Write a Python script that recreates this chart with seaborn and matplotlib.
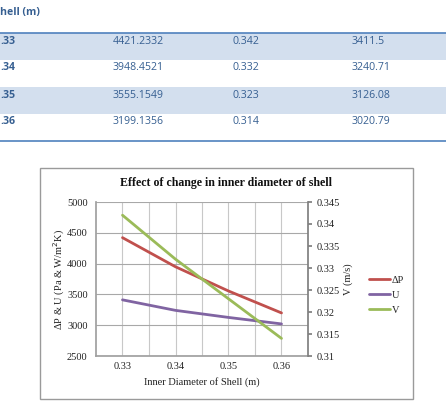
import matplotlib
matplotlib.use("Agg")
import matplotlib.pyplot as plt
import seaborn as sns
import pandas as pd
from matplotlib.patches import Rectangle
from matplotlib.lines import Line2D

diameter = [0.33, 0.34, 0.35, 0.36]
delta_p = [4421.2332, 3948.4521, 3555.1549, 3199.1356]
velocity = [0.342, 0.332, 0.323, 0.314]
u_coef = [3411.5, 3240.71, 3126.08, 3020.79]

diam_labels = ["0.33", "0.34", "0.35", "0.36"]
diam_cut_labels = [".33", ".34", ".35", ".36"]
dp_labels = ["4421.2332", "3948.4521", "3555.1549", "3199.1356"]
v_labels = ["0.342", "0.332", "0.323", "0.314"]
u_labels = ["3411.5", "3240.71", "3126.08", "3020.79"]

sns.set_theme(style="white")
plt.rcParams["font.family"] = ["DejaVu Sans"]

W, H = 446, 404
fig = plt.figure(figsize=(W / 100, H / 100), dpi=100)
fig.patch.set_facecolor("white")


def fx(x):
    return x / W


def fy(y):
    return 1 - y / H


# ---------------- table part ----------------
tcol = "#365F91"
shade = "#D3DFEE"
line_col = "#4F81BD"
tfont = ["Open Sans", "DejaVu Sans"]
tsize = 7.6

for top, bot in [(33, 60), (87, 114)]:
    fig.patches.append(Rectangle((0, fy(bot)), 1, (bot - top) / H, transform=fig.transFigure,
                                 facecolor=shade, edgecolor="none", zorder=0))
for yy in [33, 141]:
    fig.add_artist(Line2D([0, 1], [fy(yy), fy(yy)], transform=fig.transFigure, color=line_col, lw=1.2))

fig.text(fx(0.5), fy(13), "hell (m)", color=tcol, fontsize=tsize, fontweight="bold", family=tfont,
         ha="left", va="center")

row_y = [41, 68, 95, 121]
for i, yy in enumerate(row_y):
    fig.text(fx(0.5), fy(yy), diam_cut_labels[i], color=tcol, fontsize=tsize, fontweight="bold",
             family=tfont, ha="left", va="center")
    fig.text(fx(113), fy(yy), dp_labels[i], color=tcol, fontsize=tsize, family=tfont, ha="left", va="center")
    fig.text(fx(233), fy(yy), v_labels[i], color=tcol, fontsize=tsize, family=tfont, ha="left", va="center")
    fig.text(fx(352), fy(yy), u_labels[i], color=tcol, fontsize=tsize, family=tfont, ha="left", va="center")

# ---------------- chart box ----------------
fig.patches.append(Rectangle((fx(40), fy(399)), (413 - 40) / W, (399 - 168) / H, transform=fig.transFigure,
                             facecolor="white", edgecolor="#9A9A9A", lw=1.0, zorder=1))

serif = ["Liberation Serif", "DejaVu Serif"]
red, purple, green = "#C0504D", "#8064A2", "#9BBB59"

ax = fig.add_axes([fx(96), fy(356), (308 - 96) / W, (356 - 202) / H])
ax.set_zorder(3)
ax.patch.set_alpha(0)

df = pd.DataFrame({"d": diameter, "dp": delta_p, "u": u_coef, "v": velocity})
sns.lineplot(data=df, x="d", y="dp", ax=ax, color=red, lw=2.0, zorder=4)
sns.lineplot(data=df, x="d", y="u", ax=ax, color=purple, lw=2.0, zorder=4)

ax2 = ax.twinx()
sns.lineplot(data=df, x="d", y="v", ax=ax2, color=green, lw=2.0, zorder=4)

ax.set_xlim(0.325, 0.365)
ax.set_ylim(2500, 5000)
ax.set_yticks(range(2500, 5001, 500))
ax.set_xticks(diameter)
ax.set_xticklabels(diam_labels)
ax.set_xticks([0.335, 0.345, 0.355], minor=True)
ax2.set_ylim(0.31, 0.345)
ax2.set_yticks([0.31, 0.315, 0.32, 0.325, 0.33, 0.335, 0.34, 0.345])
ax2.set_yticklabels(["0.31", "0.315", "0.32", "0.325", "0.33", "0.335", "0.34", "0.345"])

ax.grid(True, axis="y", which="major", color="#A8A8A8", lw=0.8)
ax.grid(True, axis="x", which="both", color="#C8C8C8", lw=0.8)
ax.set_axisbelow(True)

for a in (ax, ax2):
    for s in a.spines.values():
        s.set_visible(False)
ax.spines["left"].set_visible(True)
ax.spines["left"].set_color("#A0A0A0")
ax.spines["bottom"].set_visible(True)
ax.spines["bottom"].set_color("#A0A0A0")
ax2.spines["right"].set_visible(True)
ax2.spines["right"].set_color("#808080")

ax.tick_params(axis="both", which="both", length=0, labelsize=7.5, labelcolor="#222222", pad=4)
ax.tick_params(axis="y", pad=6)
ax2.tick_params(axis="y", length=3, direction="out", color="#808080", labelsize=7.5,
                labelcolor="#222222", pad=3)
for lab in ax.get_xticklabels() + ax.get_yticklabels() + ax2.get_yticklabels():
    lab.set_family(serif)

ax.set_xlabel("Inner Diameter of Shell (m)", family=serif, fontsize=7.5, color="#222222", labelpad=5)
ax.set_ylabel("ΔP & U (Pa & W/m$^2$K)", family=serif, fontsize=7.5, color="#222222", labelpad=0)
ax2.set_ylabel("V (m/s)", family=serif, fontsize=7.5, color="#222222", labelpad=3)

fig.text(fx(226), fy(183), "Effect of change in inner diameter of shell", family=serif,
         fontsize=8.6, fontweight="bold", ha="center", va="center", color="#111111")

handles = [Line2D([], [], color=c, lw=2.0) for c in (red, purple, green)]
leg = fig.legend(handles, ["ΔP", "U", "V"], loc="center left", bbox_to_anchor=(fx(360), fy(295)),
                 frameon=False, handlelength=2.0, handletextpad=0.15, labelspacing=0.55,
                 prop={"family": serif, "size": 7.5})

fig.savefig("out.png", dpi=100)
